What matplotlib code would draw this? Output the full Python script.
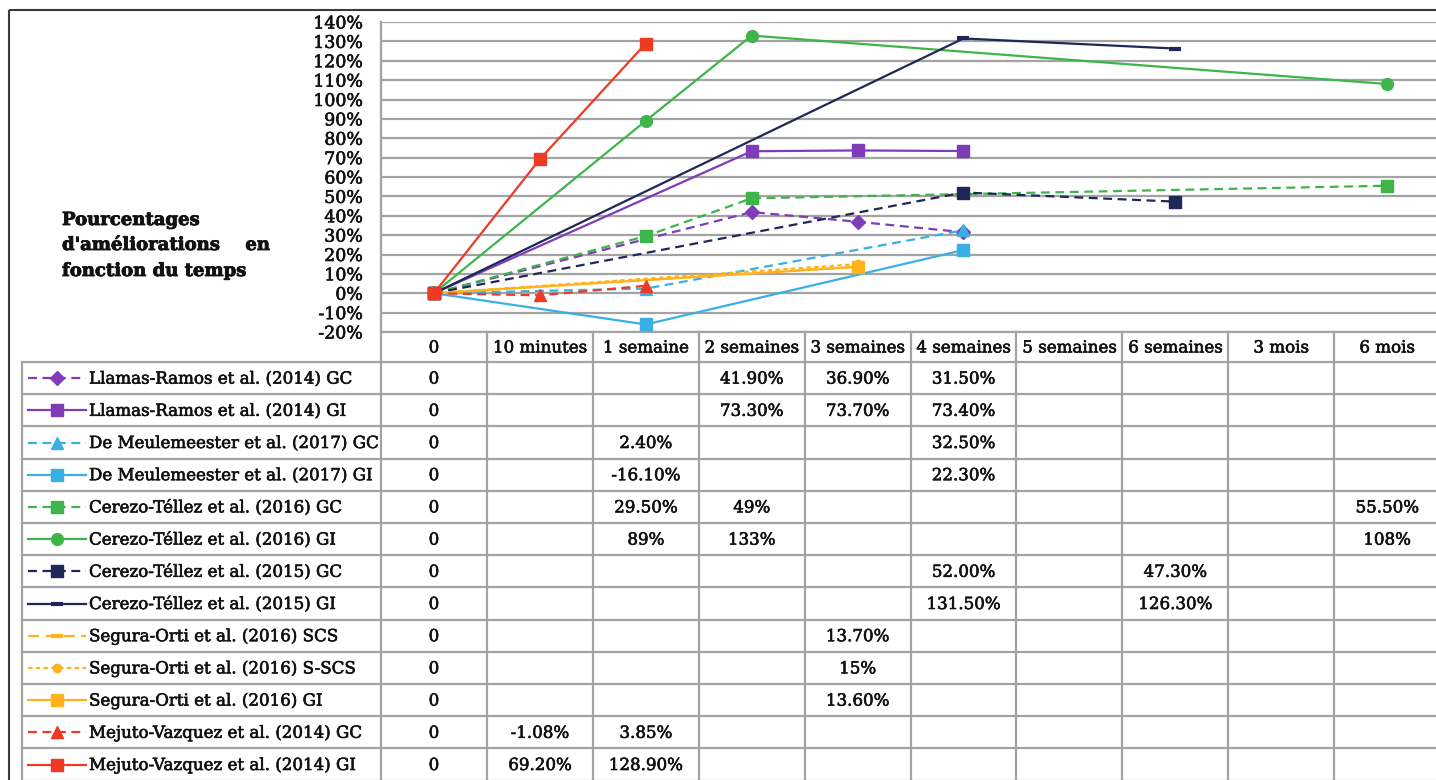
import matplotlib
matplotlib.use("Agg")
import matplotlib.pyplot as plt
from matplotlib.lines import Line2D
from matplotlib.patches import Rectangle
import matplotlib.patheffects as pe

# ---------------- data ----------------
categories = ["0", "10 minutes", "1 semaine", "2 semaines", "3 semaines",
              "4 semaines", "5 semaines", "6 semaines", "3 mois", "6 mois"]

series_names = [
    "Llamas-Ramos et al. (2014) GC",
    "Llamas-Ramos et al. (2014) GI",
    "De Meulemeester et al. (2017) GC",
    "De Meulemeester et al. (2017) GI",
    "Cerezo-Téllez et al. (2016) GC",
    "Cerezo-Téllez et al. (2016) GI",
    "Cerezo-Téllez et al. (2015) GC",
    "Cerezo-Téllez et al. (2015) GI",
    "Segura-Orti et al. (2016) SCS",
    "Segura-Orti et al. (2016) S-SCS",
    "Segura-Orti et al. (2016) GI",
    "Mejuto-Vazquez et al. (2014) GC",
    "Mejuto-Vazquez et al. (2014) GI",
]

llamas_gc   = ["0", "", "", "41.90%", "36.90%", "31.50%", "", "", "", ""]
llamas_gi   = ["0", "", "", "73.30%", "73.70%", "73.40%", "", "", "", ""]
meul_gc     = ["0", "", "2.40%", "", "", "32.50%", "", "", "", ""]
meul_gi     = ["0", "", "-16.10%", "", "", "22.30%", "", "", "", ""]
cerezo16_gc = ["0", "", "29.50%", "49%", "", "", "", "", "", "55.50%"]
cerezo16_gi = ["0", "", "89%", "133%", "", "", "", "", "", "108%"]
cerezo15_gc = ["0", "", "", "", "", "52.00%", "", "47.30%", "", ""]
cerezo15_gi = ["0", "", "", "", "", "131.50%", "", "126.30%", "", ""]
segura_scs  = ["0", "", "", "", "13.70%", "", "", "", "", ""]
segura_sscs = ["0", "", "", "", "15%", "", "", "", "", ""]
segura_gi   = ["0", "", "", "", "13.60%", "", "", "", "", ""]
mejuto_gc   = ["0", "-1.08%", "3.85%", "", "", "", "", "", "", ""]
mejuto_gi   = ["0", "69.20%", "128.90%", "", "", "", "", "", "", ""]

table_rows = [llamas_gc, llamas_gi, meul_gc, meul_gi, cerezo16_gc, cerezo16_gi,
              cerezo15_gc, cerezo15_gi, segura_scs, segura_sscs, segura_gi,
              mejuto_gc, mejuto_gi]

y_ticks = list(range(-20, 141, 10))

# ---------------- styles ----------------
PURPLE, LBLUE, GREEN, NAVY, ORANGE, RED = ("#7E3CB8", "#3AAFE4", "#3DB54A",
                                          "#1F2758", "#FFB21A", "#EE3A24")
D1 = (4, 2.5)
styles = [
    dict(color=PURPLE, dashes=D1, marker="D", ms=7),
    dict(color=PURPLE, marker="s", ms=8),
    dict(color=LBLUE, dashes=D1, marker="^", ms=8),
    dict(color=LBLUE, marker="s", ms=8),
    dict(color=GREEN, dashes=D1, marker="s", ms=8),
    dict(color=GREEN, marker="o", ms=8.5),
    dict(color=NAVY, dashes=D1, marker="s", ms=8),
    dict(color=NAVY, marker="_", ms=8, mew=3),
    dict(color=ORANGE, dashes=(5, 3), marker="_", ms=8, mew=3),
    dict(color=ORANGE, dashes=(2, 1.5), marker="o", ms=6),
    dict(color=ORANGE, marker="s", ms=8),
    dict(color=RED, dashes=D1, marker="^", ms=8),
    dict(color=RED, marker="s", ms=9),
]

FONT = "DejaVu Serif"
FS = 12
GRID = "#a3a3a3"
TXT = "#111111"
HEAVY = [pe.withStroke(linewidth=0.45, foreground=TXT)]

W, H = 1436, 780
fig = plt.figure(figsize=(W / 100, H / 100), dpi=100)
fig.patch.set_facecolor("white")

# layout in pixels
PL, PT, PB = 381, 22, 332
COLW = 105.9
ROW_TOP, ROWH = 362, 32.2
LEG_L = 22

ax = fig.add_axes([PL / W, 1 - PB / H, 10 * COLW / W, (PB - PT) / H])
ax.set_xlim(-0.5, len(categories) - 0.5)
ax.set_ylim(-20, 140)
ax.set_yticks(y_ticks)
ax.set_yticklabels([f"{v}%" for v in y_ticks], fontfamily=FONT, fontsize=12.5,
                   color=TXT)
for lab in ax.get_yticklabels():
    lab.set_path_effects(HEAVY)
ax.set_xticks([])
ax.tick_params(axis="y", length=0, pad=13)
for s in ["top", "right", "bottom"]:
    ax.spines[s].set_visible(False)
ax.spines["left"].set_color(GRID)
ax.spines["left"].set_linewidth(1.5)
ax.grid(axis="y", color=GRID, lw=1.6)
ax.set_axisbelow(True)
ax.patch.set_alpha(0)

def parse(s):
    return float(s.replace("%", ""))

for row, st in zip(table_rows, styles):
    xs = [i for i, s in enumerate(row) if s != ""]
    ys = [parse(row[i]) for i in xs]
    kw = dict(st)
    dashes = kw.pop("dashes", None)
    line, = ax.plot(xs, ys, lw=1.6, clip_on=False, **kw)
    if dashes:
        line.set_dashes(dashes)

# ---------------- table overlay ----------------
tax = fig.add_axes([0, 0, 1, 1], zorder=-1)
tax.set_xlim(0, W)
tax.set_ylim(H, 0)
tax.axis("off")

RIGHT = PL + 10 * COLW
nrows = len(table_rows)
bottom = ROW_TOP + nrows * ROWH
tax.plot([PL, RIGHT], [PB, PB], color=GRID, lw=1.6)
for k in range(11):
    x = PL + k * COLW
    tax.plot([x, x], [PB if k else PT, bottom], color=GRID, lw=1.6)
tax.plot([LEG_L, LEG_L], [ROW_TOP, bottom], color=GRID, lw=1.6)
for r in range(nrows + 1):
    y = ROW_TOP + r * ROWH
    tax.plot([LEG_L, RIGHT], [y, y], color=GRID, lw=1.6)

def cell_text(x, y, s, ha="center"):
    t = tax.text(x, y, s, ha=ha, va="center", fontfamily=FONT, fontsize=FS,
                 color=TXT)
    t.set_path_effects(HEAVY)

for k, c in enumerate(categories):
    cell_text(PL + (k + 0.5) * COLW, (PB + ROW_TOP) / 2 + 1, c)

for r, (name, row, st) in enumerate(zip(series_names, table_rows, styles)):
    yc = ROW_TOP + (r + 0.5) * ROWH
    kw = dict(st)
    dashes = kw.pop("dashes", None)
    mk = dict(marker=kw.pop("marker"), ms=kw.pop("ms"), mew=kw.pop("mew", 1))
    ln = Line2D([28, 86], [yc, yc], lw=1.6, **kw)
    if dashes:
        ln.set_dashes(dashes)
    tax.add_line(ln)
    tax.add_line(Line2D([57], [yc], linestyle="none", color=kw["color"], **mk))
    cell_text(89, yc + 1, name, ha="left")
    for k, s in enumerate(row):
        if s:
            cell_text(PL + (k + 0.5) * COLW, yc + 1, s)

# outer frame
tax.add_patch(Rectangle((9, 10), W + 20, H + 20, fill=False,
                        edgecolor="#3a3a3a", lw=1.5))

# title
TFS = 13
for x, y, s, ha in [(62, 225, "Pourcentages", "left"),
                    (62, 250, "d'améliorations", "left"),
                    (270, 250, "en", "right"),
                    (62, 276, "fonction du temps", "left")]:
    t = tax.text(x, y, s, fontfamily=FONT, fontweight="bold", fontsize=TFS,
                 va="baseline", ha=ha, color=TXT)
    t.set_path_effects([pe.withStroke(linewidth=0.6, foreground=TXT)])

fig.savefig("out.png", dpi=100, facecolor="white")
